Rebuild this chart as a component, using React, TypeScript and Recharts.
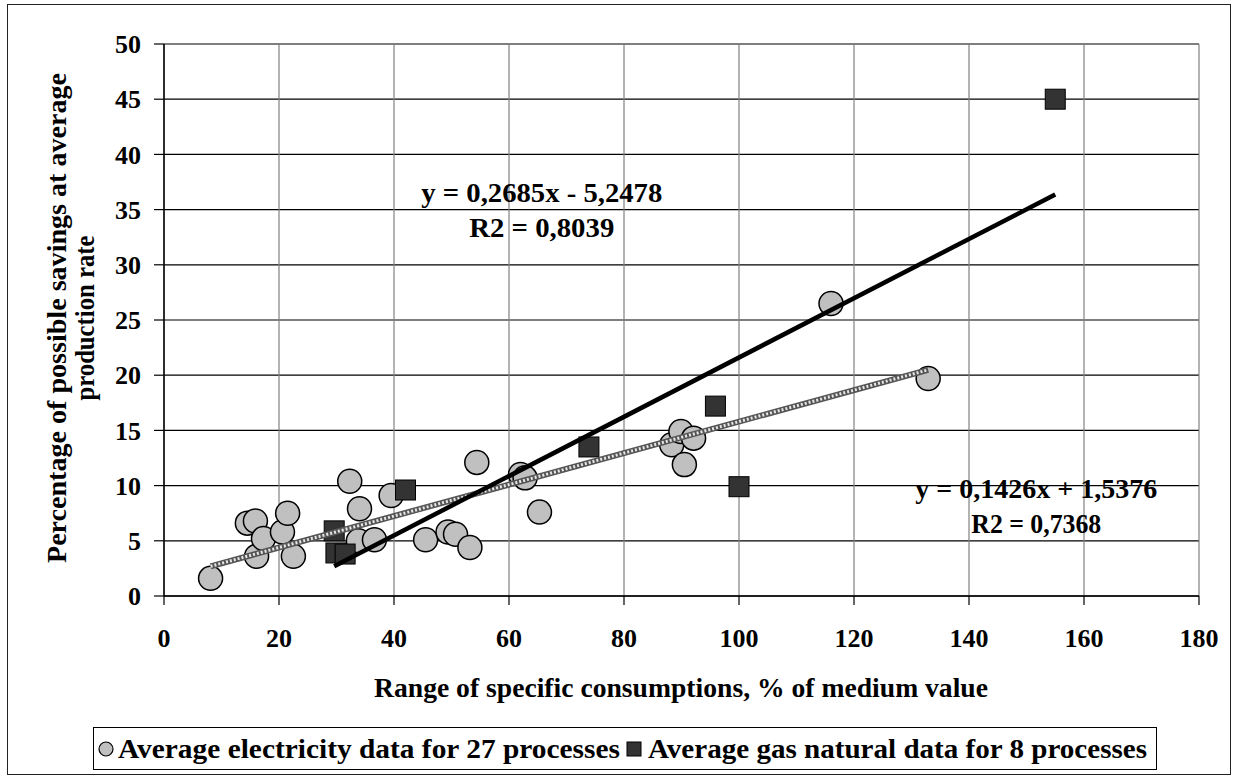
import { ScatterChart, Scatter, XAxis, YAxis, CartesianGrid, ReferenceDot } from "recharts";

const elecX = [8.1, 14.5, 15.9, 16.1, 17.3, 20.6, 21.5, 22.5, 32.3, 33.8, 34.0, 36.6, 39.5, 45.5, 49.4, 50.7, 53.2, 54.4, 62.0, 62.8, 65.3, 88.3, 89.9, 90.5, 92.1, 116, 132.9];
const elecY = [1.6, 6.6, 6.8, 3.6, 5.2, 5.8, 7.5, 3.6, 10.4, 5.0, 7.9, 5.1, 9.1, 5.1, 5.8, 5.6, 4.4, 12.1, 11.0, 10.7, 7.6, 13.7, 14.9, 11.9, 14.3, 26.5, 19.7];

const gasX = [29.6, 29.9, 31.5, 42.0, 73.9, 95.9, 100, 155];
const gasY = [5.9, 3.9, 3.8, 9.6, 13.5, 17.2, 9.9, 45];

// trend lines as printed on the chart
const elecSlope = 0.1426;
const elecIntercept = 1.5376;
const gasSlope = 0.2685;
const gasIntercept = -5.2478;

const xTicks = [0, 20, 40, 60, 80, 100, 120, 140, 160, 180];
const yTicks = [0, 5, 10, 15, 20, 25, 30, 35, 40, 45, 50];

const elecData = elecX.map((x, i) => ({ x, y: elecY[i] }));
const gasData = gasX.map((x, i) => ({ x, y: gasY[i] }));

const trend = (xs: number[], a: number, b: number) => {
  const lo = Math.min(...xs);
  const hi = Math.max(...xs);
  return [lo, hi].map((x) => ({ x, y: a * x + b }));
};
const elecTrend = trend(elecX, elecSlope, elecIntercept);
const gasTrend = trend(gasX, gasSlope, gasIntercept);

const FONT = '"Liberation Serif", "Times New Roman", Tinos, "DejaVu Serif", serif';
const txt = { fontFamily: FONT, fontWeight: "bold" as const };
const tickStyle = { fontSize: 26, fontWeight: "bold", fill: "#000", style: { fontFamily: FONT } };

const Circle = (p: any) => <circle cx={p.cx} cy={p.cy} r={12} fill="#c0c0c0" stroke="#000" strokeWidth={1.5} />;
const Square = (p: any) => <rect x={p.cx - 10} y={p.cy - 10} width={20} height={20} fill="#333333" stroke="#000" strokeWidth={1} />;
const Nothing = () => <g />;

const eqLabel = (line1: string, line2: string, w1: number, w2: number) => (props: any) => {
  const vb = props.viewBox || {};
  const cx = vb.x + (vb.width || 0) / 2;
  const cy = vb.y + (vb.height || 0) / 2;
  return (
    <g style={txt} fontSize={28} fill="#000">
      <text x={cx} y={cy + 9} textAnchor="middle" textLength={w1} lengthAdjust="spacingAndGlyphs">{line1}</text>
      <text x={cx} y={cy + 44} textAnchor="middle" textLength={w2} lengthAdjust="spacingAndGlyphs">{line2}</text>
    </g>
  );
};

function App() {
  return (
    <div style={{ position: "absolute", left: 0, top: 0, width: 1239, height: 780, background: "#fff", fontFamily: FONT }}>
      <div style={{ position: "absolute", left: 7, top: 4, width: 1224, height: 771, border: "1.5px solid #222", boxSizing: "border-box" }} />
      <ScatterChart width={1239} height={780} margin={{ top: 44, right: 40, left: 0, bottom: 84 }} style={{ fontFamily: FONT }}>
        <CartesianGrid vertical={false} stroke="#000" strokeWidth={1.2} />
        <CartesianGrid horizontal={false} stroke="#808080" strokeWidth={1.2} />
        <XAxis
          type="number"
          dataKey="x"
          domain={[0, 180]}
          ticks={xTicks}
          height={100}
          tick={tickStyle}
          tickSize={9}
          tickMargin={24}
          axisLine={{ stroke: "#000", strokeWidth: 1.5 }}
          tickLine={{ stroke: "#000", strokeWidth: 1.2 }}
          label={{
            content: () => (
              <text x={681} y={697} textAnchor="middle" style={txt} fontSize={28} fill="#000" textLength={614} lengthAdjust="spacingAndGlyphs">
                Range of specific consumptions, % of medium value
              </text>
            ),
          }}
        />
        <YAxis
          type="number"
          dataKey="y"
          domain={[0, 50]}
          ticks={yTicks}
          width={164}
          tick={tickStyle}
          tickSize={10}
          tickMargin={13}
          axisLine={{ stroke: "#000", strokeWidth: 1.5 }}
          tickLine={{ stroke: "#000", strokeWidth: 1.2 }}
          label={{
            content: () => (
              <g style={txt} fontSize={28} fill="#000">
                <text x={0} y={0} transform="translate(66 318) rotate(-90)" textAnchor="middle" textLength={490} lengthAdjust="spacingAndGlyphs">
                  Percentage of possible savings at average
                </text>
                <text x={0} y={0} transform="translate(94 318) rotate(-90)" textAnchor="middle" textLength={165} lengthAdjust="spacingAndGlyphs">
                  production rate
                </text>
              </g>
            ),
          }}
        />
        <Scatter name="Average electricity data for 27 processes" data={elecData} shape={Circle} isAnimationActive={false} />
        <Scatter name="Average gas natural data for 8 processes" data={gasData} shape={Square} isAnimationActive={false} />
        <Scatter data={elecTrend} line={{ stroke: "#555", strokeWidth: 6 }} shape={Nothing} legendType="none" isAnimationActive={false} />
        <Scatter data={elecTrend} line={{ stroke: "#e6e6e6", strokeWidth: 3, strokeDasharray: "2 2" }} shape={Nothing} legendType="none" isAnimationActive={false} />
        <Scatter data={gasTrend} line={{ stroke: "#000", strokeWidth: 4.5 }} shape={Nothing} legendType="none" isAnimationActive={false} />
        <ReferenceDot x={65.7} y={36.5} r={0} fill="none" stroke="none" label={{ content: eqLabel("y = 0,2685x - 5,2478", "R2 = 0,8039", 241, 145) }} />
        <ReferenceDot x={151.7} y={9.7} r={0} fill="none" stroke="none" label={{ content: eqLabel("y = 0,1426x + 1,5376", "R2 = 0,7368", 242, 130) }} />
      </ScatterChart>
      <svg style={{ position: "absolute", left: 93, top: 727, fontFamily: FONT }} width={1065} height={44}>
        <rect x={0.5} y={0.5} width={1063} height={42} fill="#fff" stroke="#000" strokeWidth={1} />
        <circle cx={13} cy={22} r={7} fill="#c0c0c0" stroke="#000" strokeWidth={1.2} />
        <text x={25} y={31} style={txt} fontSize={27} fill="#000" textLength={502} lengthAdjust="spacingAndGlyphs">
          Average electricity data for 27 processes
        </text>
        <rect x={534} y={15} width={14} height={14} fill="#333333" stroke="#000" strokeWidth={1} />
        <text x={555} y={31} style={txt} fontSize={27} fill="#000" textLength={499} lengthAdjust="spacingAndGlyphs">
          Average gas natural data for 8 processes
        </text>
      </svg>
    </div>
  );
}

export default App;
